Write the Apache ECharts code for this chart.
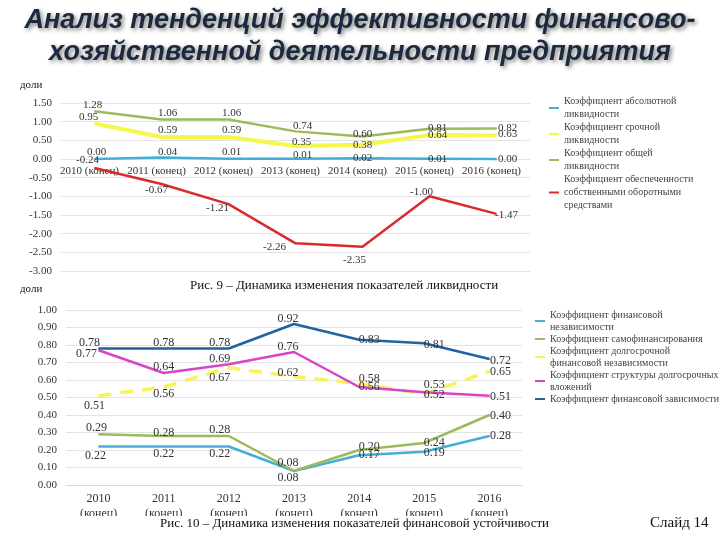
<!DOCTYPE html>
<html><head><meta charset="utf-8">
<script src="https://cdn.jsdelivr.net/npm/echarts@6/dist/echarts.min.js"></script>
<style>html,body{margin:0;padding:0;background:#fff}#c{width:720px;height:540px}</style>
</head><body><div id="c"></div>
<script>
// ---- data ----
const years = ['2010','2011','2012','2013','2014','2015','2016'];
const absLiq     = [0.00, 0.04, 0.01, 0.01, 0.02, 0.01, 0.00];
const quickLiq   = [0.95, 0.59, 0.59, 0.35, 0.38, 0.64, 0.63];
const currentLiq = [1.28, 1.06, 1.06, 0.74, 0.60, 0.81, 0.82];
const ownWorking = [-0.24, -0.67, -1.21, -2.26, -2.35, -1.00, -1.47];
const finIndep    = [0.22, 0.22, 0.22, 0.08, 0.17, 0.19, 0.28];
const selfFin     = [0.29, 0.28, 0.28, 0.08, 0.20, 0.24, 0.40];
const ltFinIndep  = [0.51, 0.56, 0.67, 0.62, 0.58, 0.52, 0.65];
const ltInvStruct = [0.77, 0.64, 0.69, 0.76, 0.56, 0.53, 0.51];
const finDep      = [0.78, 0.78, 0.78, 0.92, 0.83, 0.81, 0.72];
const ticks1 = {min: -3, max: 1.5, interval: 0.5};
const ticks2 = {min: 0, max: 1, interval: 0.1};

// ---- label placement (pixel offsets) ----
const off1 = {
  abs:  [[2,-7],[6,-5],[3,-7],[7,-4],[0,0],[8,0],[11,0]],
  quick:[[-6,-6],[6,-7],[3,-7],[6,-4],[0,0],[8,0],[11,-1]],
  cur:  [[-2,-6],[6,-6],[3,-6],[7,-5],[0,-2],[8,-1],[11,0]],
  own:  [[-7,-8],[-5,6],[-11,4],[-21,4],[-8,13],[-8,-4],[10,1]]
};
const off2 = {
  dep:  [[-9,-6],[0,-6],[-9,-6],[-6,-5],[10,0],[10,2],[11,2]],
  str:  [[-12,4],[0,-6],[-9,-5],[-6,-5],[10,0],[10,-7],[11,1]],
  lt:   [[-4,10],[0,7],[-9,10],[-6,-4],[10,-5],[10,1],[11,1]],
  self: [[-2,-6],[0,-3],[-9,-6],[-6,-8],[10,-3],[10,0],[11,1]],
  ind:  [[-3,9],[0,7],[-9,7],[-6,7],[10,0],[10,1],[11,0]]
};

const serif = 'Liberation Serif';
const lblStyle = (fs) => ({show: true, position: 'inside', fontFamily: serif, fontSize: fs, color: '#333',
  formatter: p => Number(p.value).toFixed(2)});
function mk(name, vals, offs, color, idx, fs, extra) {
  return Object.assign({
    type: 'line', name: name, xAxisIndex: idx, yAxisIndex: idx,
    symbol: 'circle', symbolSize: 1, itemStyle: {color: color},
    lineStyle: {color: color, width: 2.5},
    label: lblStyle(fs),
    data: vals.map((v, i) => ({value: v, label: {offset: offs[i]}})),
    z: 3
  }, extra || {});
}

const names1 = ['Коэффициент абсолютной\nликвидности', 'Коэффициент срочной\nликвидности',
  'Коэффициент общей\nликвидности', 'Коэффициент обеспеченности\nсобственными оборотными\nсредствами'];
const names2 = ['Коэффициент финансовой\nнезависимости', 'Коэффициент самофинансирования',
  'Коэффициент долгосрочной\nфинансовой независимости', 'Коэффициент структуры долгосрочных\nвложений',
  'Коэффициент финансовой зависимости'];

const C = {lblue: '#45aed6', yellow: '#f6f64c', green: '#9bbb59', red: '#d92b2b', mag: '#d944c6', dblue: '#1f64a0'};

const axisLbl = {fontFamily: serif, fontSize: 11, color: '#333'};
const gridLine = {show: true, lineStyle: {color: '#e3e3e3', width: 1}};

const chart = echarts.init(document.getElementById('c'), null, {renderer: 'canvas'});
chart.setOption({
  animation: false,
  backgroundColor: '#fff',
  title: [
    {text: 'Анализ тенденций эффективности финансово-\nхозяйственной деятельности предприятия', left: 'center', top: 0,
      textStyle: {fontFamily: 'Liberation Sans', fontStyle: 'italic', fontWeight: 'bold', fontSize: 27, lineHeight: 32,
        color: '#1b2a3e', textShadowColor: 'rgba(0,0,0,0.5)', textShadowBlur: 4, textShadowOffsetX: 2, textShadowOffsetY: 2}},
    {text: 'доли', left: 20, top: 80, padding: 0, textStyle: {fontFamily: serif, fontSize: 11, fontWeight: 'normal', color: '#111'}},
    {text: 'доли', left: 20, top: 284, padding: 0, textStyle: {fontFamily: serif, fontSize: 11, fontWeight: 'normal', color: '#111'}},
    {text: 'Рис. 9 – Динамика изменения показателей ликвидности', left: 190, top: 279, padding: 0,
      textStyle: {fontFamily: serif, fontSize: 13, fontWeight: 'normal', color: '#111'}},
    {text: 'Слайд 14', left: 650, top: 516, padding: 0, textStyle: {fontFamily: serif, fontSize: 15, fontWeight: 'normal', color: '#111'}}
  ],
  graphic: [
    {type: 'rect', left: 0, top: 516, z: 100, shape: {width: 610, height: 24}, style: {fill: '#fff'}},
    {type: 'text', left: 160, top: 517, z: 101, style: {text: 'Рис. 10 – Динамика изменения показателей финансовой устойчивости',
      font: '13px "Liberation Serif"', fill: '#111'}}
  ],
  legend: [
    {orient: 'vertical', left: 549, top: 95, padding: 0, itemWidth: 10, itemHeight: 2, itemGap: 0, icon: 'rect',
      data: names1, selectedMode: false,
      textStyle: {fontFamily: serif, fontSize: 10, lineHeight: 13, color: '#444'}},
    {orient: 'vertical', left: 535, top: 309, padding: 0, itemWidth: 10, itemHeight: 2, itemGap: 0, icon: 'rect',
      data: names2, selectedMode: false,
      textStyle: {fontFamily: serif, fontSize: 10, lineHeight: 12, color: '#444'}}
  ],
  grid: [
    {left: 61, top: 103, width: 469, height: 168},
    {left: 66, top: 310, width: 456, height: 175}
  ],
  xAxis: [
    {type: 'category', gridIndex: 0, position: 'bottom', offset: -112, data: years.map(y => y + ' (конец)'), boundaryGap: true,
      axisLine: {show: false, onZero: false}, axisTick: {show: false},
      axisLabel: Object.assign({margin: 7, interval: 0, padding: [0, 10, 0, 0]}, axisLbl)},
    {type: 'category', gridIndex: 1, data: years.map(y => y + '\n(конец)'), boundaryGap: true,
      axisLine: {show: true, lineStyle: {color: '#d9d9d9'}}, axisTick: {show: false},
      axisLabel: Object.assign({margin: 6, interval: 0, lineHeight: 15}, axisLbl, {fontSize: 12})}
  ],
  yAxis: [
    {type: 'value', gridIndex: 0, min: ticks1.min, max: ticks1.max, interval: ticks1.interval,
      axisLine: {show: false}, axisTick: {show: false}, splitLine: gridLine,
      axisLabel: Object.assign({margin: 9, formatter: v => v.toFixed(2)}, axisLbl)},
    {type: 'value', gridIndex: 1, min: ticks2.min, max: ticks2.max, interval: ticks2.interval,
      axisLine: {show: false}, axisTick: {show: false}, splitLine: gridLine,
      axisLabel: Object.assign({margin: 9, formatter: v => v.toFixed(2)}, axisLbl)}
  ],
  series: [
    mk(names1[0], absLiq, off1.abs, C.lblue, 0, 11),
    mk(names1[1], quickLiq, off1.quick, C.yellow, 0, 11, {lineStyle: {color: C.yellow, width: 4}}),
    mk(names1[2], currentLiq, off1.cur, C.green, 0, 11),
    mk(names1[3], ownWorking, off1.own, C.red, 0, 11),
    mk(names2[0], finIndep, off2.ind, C.lblue, 1, 12),
    mk(names2[1], selfFin, off2.self, C.green, 1, 12),
    mk(names2[2], ltFinIndep, off2.lt, '#f7f35a', 1, 12, {lineStyle: {color: '#f7f35a', width: 3.5, type: [13, 9]}}),
    mk(names2[3], ltInvStruct, off2.str, C.mag, 1, 12),
    mk(names2[4], finDep, off2.dep, C.dblue, 1, 12)
  ]
});
</script></body></html>
